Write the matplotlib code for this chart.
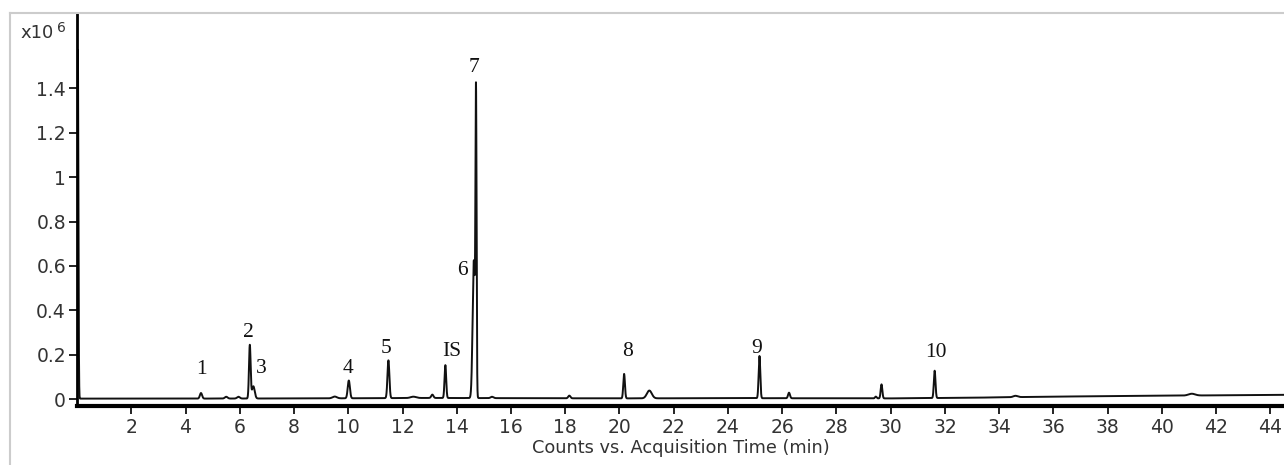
import numpy as np
import matplotlib.pyplot as plt
from matplotlib.lines import Line2D

# peak table (retention time in min, height in 1e6 counts, width sigma in min)
peak_times = [0.03, 4.57, 5.5, 5.95, 6.37, 6.5, 9.5, 10.02, 11.48, 12.4, 13.1, 13.58,
              14.63, 14.71, 15.3, 18.15, 20.17, 21.1, 25.16, 26.25, 29.45, 29.66,
              31.62, 34.6, 41.1]
peak_heights = [1.57, 0.025, 0.008, 0.008, 0.24, 0.055, 0.008, 0.08, 0.17, 0.006, 0.015, 0.148,
                0.62, 1.29, 0.006, 0.012, 0.11, 0.035, 0.19, 0.025, 0.008, 0.063,
                0.123, 0.006, 0.008]
peak_widths = [0.02, 0.04, 0.05, 0.05, 0.03, 0.05, 0.08, 0.04, 0.035, 0.1, 0.04, 0.03,
               0.045, 0.02, 0.05, 0.04, 0.03, 0.09, 0.03, 0.035, 0.03, 0.03,
               0.03, 0.08, 0.12]

# baseline drift knots
base_t = [0, 4, 9, 13, 16, 20, 24, 30, 33, 36, 40, 44.5]
base_y = [0.003, 0.003, 0.004, 0.006, 0.005, 0.004, 0.005, 0.004, 0.007, 0.012, 0.016, 0.02]

# peak labels: text, x, y
label_text = ['1', '2', '3', '4', '5', 'IS', '6', '7', '8', '9', '10']
label_x = [4.6, 6.3, 6.8, 10.0, 11.4, 13.8, 14.2, 14.65, 20.3, 25.05, 31.65]
label_y = [0.092, 0.257, 0.097, 0.097, 0.187, 0.172, 0.537, 1.452, 0.172, 0.187, 0.167]

xticks = list(range(2, 45, 2))
yticks = [0, 0.2, 0.4, 0.6, 0.8, 1.0, 1.2, 1.4]
ytick_labels = ['0', '0.2', '0.4', '0.6', '0.8', '1', '1.2', '1.4']

t = np.linspace(0, 44.5, 30000)
signal = np.interp(t, base_t, base_y)
for rt, h, w in zip(peak_times, peak_heights, peak_widths):
    signal += h * np.exp(-0.5 * ((t - rt) / w) ** 2)

fig = plt.figure(figsize=(12.84, 4.65), dpi=100)
ax = fig.add_axes([0.060, 0.127, 0.940, 0.843])

ax.plot(t, signal, color='#111111', lw=1.4)

ax.set_xlim(0, 44.5)
ax.set_ylim(-0.03, 1.734)
ax.set_xticks(xticks)
ax.set_yticks(yticks)
ax.set_yticklabels(ytick_labels)
ax.tick_params(axis='both', direction='out', length=6, width=1.3, colors='#111111',
               labelsize=13.5, labelcolor='#333333')
ax.tick_params(axis='x', pad=3)
ax.tick_params(axis='y', pad=2)
for side in ['top', 'right']:
    ax.spines[side].set_visible(False)
ax.spines['left'].set_linewidth(2)
ax.spines['bottom'].set_linewidth(3)

for s, x, y in zip(label_text, label_x, label_y):
    ax.text(x, y, s, ha='center', va='bottom', fontsize=15.5,
            family='Liberation Serif', color='#111111')

ax.set_xlabel('Counts vs. Acquisition Time (min)', fontsize=12.8, color='#333333', labelpad=1)

fig.text(20 / 1284, 1 - 33 / 465, 'x10', fontsize=13, color='#333333', va='center')
fig.text(57 / 1284, 1 - 28 / 465, '6', fontsize=10, color='#333333', va='center')

# light outer frame
fig.add_artist(Line2D([10 / 1284, 10 / 1284], [0, 1 - 13 / 465], color='#cccccc', lw=1.5))
fig.add_artist(Line2D([10 / 1284, 1], [1 - 13 / 465, 1 - 13 / 465], color='#cccccc', lw=1.5))

fig.savefig('out.png', dpi=100)
